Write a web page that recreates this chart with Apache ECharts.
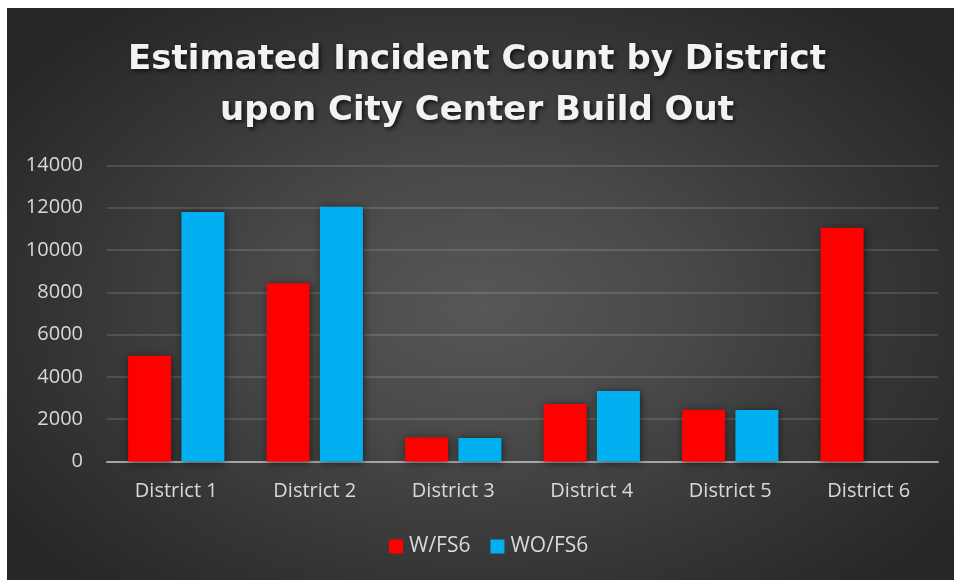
<!DOCTYPE html>
<html>
<head>
<meta charset="utf-8">
<script src="https://cdn.jsdelivr.net/npm/echarts@6/dist/echarts.min.js"></script>
<style>
  html, body { margin: 0; padding: 0; background: #ffffff; }
  #wrap { position: relative; width: 954px; height: 580px; overflow: hidden; }
  #panel {
    position: absolute; left: 7px; top: 8px; width: 947px; height: 572px;
    background: radial-gradient(ellipse 62% 68% at 50% 52%, #575757 0%, #494949 35%, #353535 70%, #262626 100%);
  }
  #chart { position: absolute; left: 0; top: 0; width: 954px; height: 580px; }
</style>
</head>
<body>
<div id="wrap">
  <div id="panel"></div>
  <div id="chart"></div>
</div>
<script>
// Incident estimates per district, with and without fire station 6
const districts = ['District 1', 'District 2', 'District 3', 'District 4', 'District 5', 'District 6'];
const withFS6 = [5000, 8430, 1130, 2720, 2450, 11050];
const withoutFS6 = [11800, 12050, 1110, 3340, 2440, null];
const seriesNames = ['W/FS6', 'WO/FS6'];
const yTicks = { min: 0, max: 14000, interval: 2000 };

const chart = echarts.init(document.getElementById('chart'), null, { renderer: 'canvas' });

const barShadow = { shadowBlur: 8, shadowColor: 'rgba(0,0,0,0.55)', shadowOffsetX: 1, shadowOffsetY: 1 };

chart.setOption({
  backgroundColor: 'transparent',
  animation: false,
  title: {
    text: 'Estimated Incident Count by District\nupon City Center Build Out',
    left: 'center',
    top: 30,
    textStyle: {
      fontFamily: 'DejaVu Sans',
      fontWeight: 'bold',
      fontSize: 34,
      lineHeight: 51,
      color: '#f2f2f2',
      textShadowColor: 'rgba(0,0,0,0.7)',
      textShadowBlur: 4,
      textShadowOffsetX: 2,
      textShadowOffsetY: 2
    }
  },
  legend: {
    data: seriesNames,
    bottom: 18,
    left: 384,
    itemWidth: 14,
    itemHeight: 14,
    itemGap: 20,
    icon: 'rect',
    textStyle: { color: '#d9d9d9', fontFamily: 'Open Sans', fontSize: 21, padding: [0, 0, 0, 1] }
  },
  grid: { left: 107, right: 16, top: 165.5, bottom: 118.5, containLabel: false },
  xAxis: {
    type: 'category',
    data: districts,
    axisTick: { show: false },
    axisLine: { lineStyle: { color: '#a6a6a6', width: 2 } },
    axisLabel: { color: '#d9d9d9', fontFamily: 'Open Sans', fontSize: 20, margin: 20 }
  },
  yAxis: {
    type: 'value',
    min: yTicks.min,
    max: yTicks.max,
    interval: yTicks.interval,
    axisLine: { show: false },
    axisTick: { show: false },
    axisLabel: { color: '#d9d9d9', fontFamily: 'Open Sans', fontSize: 20, margin: 24, formatter: v => String(v) },
    splitLine: { lineStyle: { color: 'rgba(255,255,255,0.13)', width: 2 } }
  },
  series: [
    {
      name: seriesNames[0], type: 'bar', data: withFS6,
      barWidth: 43, barGap: '24%',
      itemStyle: Object.assign({ color: '#ff0000' }, barShadow)
    },
    {
      name: seriesNames[1], type: 'bar', data: withoutFS6,
      barWidth: 43, barGap: '24%',
      itemStyle: Object.assign({ color: '#00b0f0' }, barShadow)
    }
  ]
});
</script>
</body>
</html>
